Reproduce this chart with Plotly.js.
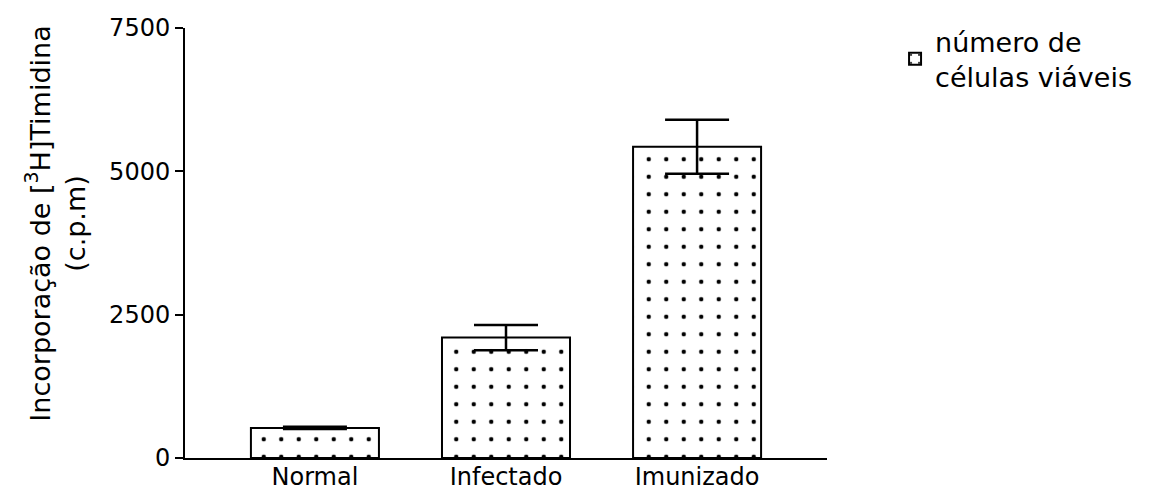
<!DOCTYPE html>
<html>
<head>
<meta charset="utf-8">
<script src="https://cdn.plot.ly/plotly-3.0.1.min.js"></script>
<style>html,body{margin:0;padding:0;background:#fff;}#chart{width:1167px;height:490px;}</style>
</head>
<body>
<div id="chart"></div>
<script>
const categories = ["Normal", "Infectado", "Imunizado"];
const values = [525, 2100, 5430];
const errors = [20, 220, 470];
const seriesName = "número de<br>células viáveis";
const yTitle = "Incorporação de [<sup>3</sup>H]Timidina<br>(c.p.m)";
const yTickVals = [0, 2500, 5000, 7500];
const yTickText = ["0", "2500", "5000", "7500"];

const FONT = "DejaVu Sans, Liberation Sans, Arial, sans-serif";

const trace = {
  type: "bar",
  x: categories,
  y: values,
  name: seriesName,
  showlegend: true,
  marker: {
    color: "#ffffff",
    line: {color: "#000000", width: 2},
    pattern: {shape: ".", size: 17.5, solidity: 0.05, fgcolor: "#000000", bgcolor: "#ffffff", fillmode: "replace"}
  },
  error_y: {type: "data", array: errors, visible: true, color: "#000000", thickness: 2.5, width: 32}
};

const layout = {
  width: 1167, height: 490,
  margin: {l: 185, r: 340, t: 28, b: 32},
  paper_bgcolor: "#ffffff", plot_bgcolor: "#ffffff",
  font: {family: FONT, color: "#000000", size: 24},
  bargap: 0.33,
  xaxis: {
    range: [-0.68, 2.68],
    showline: true, linecolor: "#000", linewidth: 2,
    ticks: "", showgrid: false, zeroline: false,
    tickfont: {family: FONT, size: 24, color: "#000"},
    ticklabelstandoff: -4,
    fixedrange: true
  },
  yaxis: {
    range: [0, 7500],
    tickvals: yTickVals, ticktext: yTickText,
    showline: true, linecolor: "#000", linewidth: 2,
    ticks: "outside", ticklen: 8, tickwidth: 2, tickcolor: "#000",
    showgrid: false, zeroline: false,
    tickfont: {family: FONT, size: 24, color: "#000"},
    fixedrange: true
  },
  annotations: [{
    text: yTitle, textangle: -90,
    xref: "paper", yref: "paper",
    x: -0.2025, y: 0.545, xanchor: "center", yanchor: "middle",
    showarrow: false,
    font: {family: FONT, size: 27, color: "#000"}
  }],
  legend: {
    x: 1.106, xanchor: "left", xref: "paper",
    y: 1.025, yanchor: "top",
    font: {family: FONT, size: 27, color: "#000"},
    bgcolor: "rgba(0,0,0,0)"
  },
  showlegend: true
};

Plotly.newPlot("chart", [trace], layout, {displayModeBar: false, staticPlot: true});
</script>
</body>
</html>
